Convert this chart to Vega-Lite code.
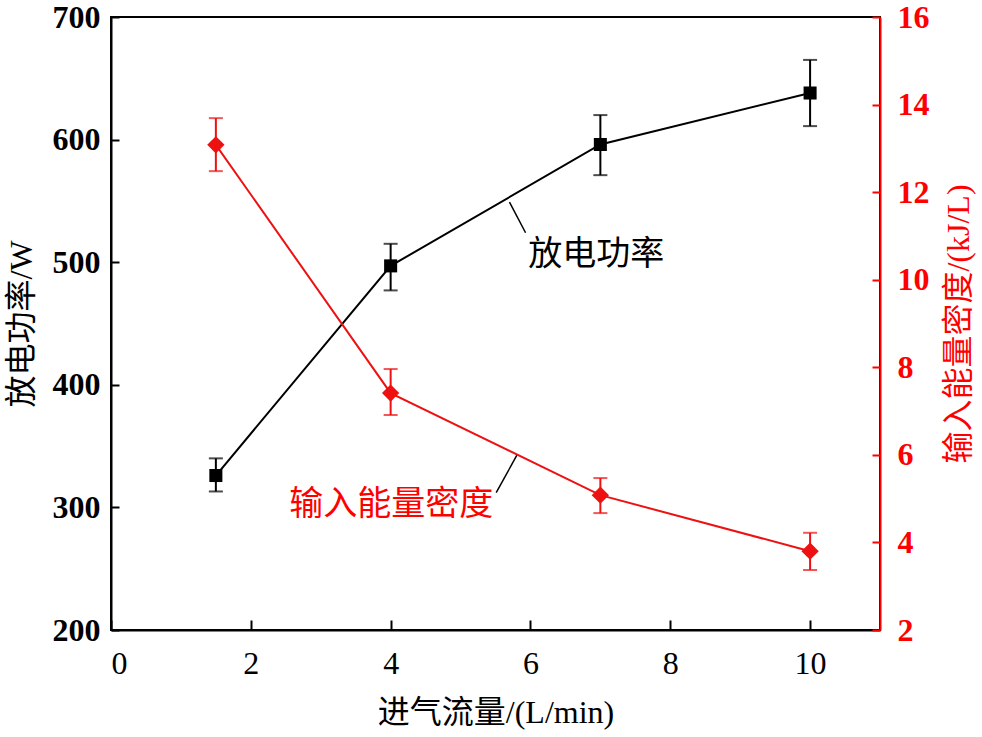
{
  "$schema": "https://vega.github.io/schema/vega-lite/v6.json",
  "width": 769,
  "height": 613,
  "autosize": {"type": "none"},
  "padding": {"left": 111, "top": 17, "right": 102, "bottom": 107},
  "background": "white",
  "config": {
    "view": {"stroke": "black", "strokeWidth": 2},
    "axis": {"grid": false}
  },
  "datasets": {
    "power": [
      {"flow": 1.5, "power": 326, "lo": 313, "hi": 340},
      {"flow": 4, "power": 497, "lo": 477, "hi": 515},
      {"flow": 7, "power": 596, "lo": 571, "hi": 620},
      {"flow": 10, "power": 638, "lo": 611, "hi": 665}
    ],
    "density": [
      {"flow": 1.5, "density": 13.08, "lo": 12.48, "hi": 13.69},
      {"flow": 4, "density": 7.41, "lo": 6.91, "hi": 7.96},
      {"flow": 7, "density": 5.08, "lo": 4.67, "hi": 5.47},
      {"flow": 10, "density": 3.8, "lo": 3.37, "hi": 4.22}
    ],
    "leaders": [
      {"flow": 5.7, "y": 549, "flow2": 5.93, "y2": 524},
      {"flow": 5.81, "y": 343, "flow2": 5.51, "y2": 312}
    ],
    "labels": [
      {"flow": 6.94, "y": 506, "text": "放电功率", "series": "power"},
      {"flow": 4.01, "y": 302, "text": "输入能量密度", "series": "density"}
    ]
  },
  "resolve": {"scale": {"y": "independent"}},
  "layer": [
    {
      "layer": [
        {
          "data": {"name": "power"},
          "mark": {"type": "line", "color": "black", "strokeWidth": 2},
          "encoding": {
            "x": {
              "field": "flow", "type": "quantitative",
              "scale": {"domain": [0, 11], "nice": false},
              "axis": {
                "title": "进气流量/(L/min)",
                "values": [0, 2, 4, 6, 8, 10], "format": "d",
                "domainColor": "black", "domainWidth": 2,
                "tickColor": "black", "tickWidth": 2, "tickSize": -10,
                "labelPadding": 28, "labelFont": "Liberation Serif",
                "labelFontSize": 32, "labelColor": "black",
                "titleFont": "Liberation Serif, Noto Sans CJK SC",
                "titleFontSize": 32, "titleFontWeight": "normal",
                "titleColor": "black", "titlePadding": 18
              }
            },
            "y": {
              "field": "power", "type": "quantitative",
              "scale": {"domain": [200, 700], "nice": false, "zero": false},
              "axis": {
                "orient": "left",
                "title": "放电功率/W",
                "values": [200, 300, 400, 500, 600, 700], "format": "d",
                "domainColor": "black", "domainWidth": 2,
                "tickColor": "black", "tickWidth": 2, "tickSize": -8,
                "labelPadding": 19, "labelFont": "Liberation Serif",
                "labelFontWeight": "bold",
                "labelFontSize": 32, "labelColor": "black",
                "titleFont": "Liberation Serif, Noto Sans CJK SC",
                "titleFontSize": 32, "titleFontWeight": "normal",
                "titleColor": "black", "titlePadding": 14
              }
            }
          }
        },
        {
          "data": {"name": "power"},
          "mark": {"type": "rule", "color": "black", "strokeWidth": 2},
          "encoding": {
            "x": {"field": "flow", "type": "quantitative"},
            "y": {"field": "lo", "type": "quantitative"},
            "y2": {"field": "hi"}
          }
        },
        {
          "data": {"name": "power"},
          "mark": {"type": "tick", "orient": "horizontal", "color": "black", "size": 14, "thickness": 2},
          "encoding": {
            "x": {"field": "flow", "type": "quantitative"},
            "y": {"field": "lo", "type": "quantitative"}
          }
        },
        {
          "data": {"name": "power"},
          "mark": {"type": "tick", "orient": "horizontal", "color": "black", "size": 14, "thickness": 2},
          "encoding": {
            "x": {"field": "flow", "type": "quantitative"},
            "y": {"field": "hi", "type": "quantitative"}
          }
        },
        {
          "data": {"name": "power"},
          "mark": {"type": "point", "shape": "square", "filled": true, "color": "black", "size": 170, "opacity": 1},
          "encoding": {
            "x": {"field": "flow", "type": "quantitative"},
            "y": {"field": "power", "type": "quantitative"}
          }
        },
        {
          "data": {"name": "leaders"},
          "mark": {"type": "rule", "color": "black", "strokeWidth": 1.5},
          "encoding": {
            "x": {"field": "flow", "type": "quantitative"},
            "y": {"field": "y", "type": "quantitative"},
            "x2": {"field": "flow2"},
            "y2": {"field": "y2"}
          }
        },
        {
          "data": {"name": "labels"},
          "mark": {"type": "text", "fontSize": 34, "font": "Noto Sans CJK SC", "align": "center", "baseline": "middle"},
          "encoding": {
            "x": {"field": "flow", "type": "quantitative"},
            "y": {"field": "y", "type": "quantitative"},
            "text": {"field": "text"},
            "color": {
              "field": "series", "type": "nominal",
              "scale": {"domain": ["power", "density"], "range": ["black", "#ff0000"]},
              "legend": null
            }
          }
        }
      ]
    },
    {
      "data": {"name": "density"},
      "layer": [
        {
          "mark": {"type": "line", "color": "#ee1111", "strokeWidth": 2},
          "encoding": {
            "x": {"field": "flow", "type": "quantitative"},
            "y": {
              "field": "density", "type": "quantitative",
              "scale": {"domain": [2, 16], "nice": false, "zero": false},
              "axis": {
                "orient": "right",
                "title": "输入能量密度/(kJ/L)",
                "titleAngle": 270,
                "titleBaseline": "top",
                "values": [2, 4, 6, 8, 10, 12, 14, 16], "format": "d",
                "domainColor": "#ff0000", "domainWidth": 2,
                "tickColor": "#ff0000", "tickWidth": 2, "tickSize": -8,
                "labelPadding": 25, "labelFont": "Liberation Serif",
                "labelFontWeight": "bold",
                "labelFontSize": 32, "labelColor": "#ff0000",
                "titleFont": "Liberation Serif, Noto Sans CJK SC",
                "titleFontSize": 32, "titleFontWeight": "normal",
                "titleColor": "#ff0000", "titlePadding": 14
              }
            }
          }
        },
        {
          "mark": {"type": "rule", "color": "#ee1111", "strokeWidth": 2},
          "encoding": {
            "x": {"field": "flow", "type": "quantitative"},
            "y": {"field": "lo", "type": "quantitative"},
            "y2": {"field": "hi"}
          }
        },
        {
          "mark": {"type": "tick", "orient": "horizontal", "color": "#ee1111", "size": 14, "thickness": 2},
          "encoding": {
            "x": {"field": "flow", "type": "quantitative"},
            "y": {"field": "lo", "type": "quantitative"}
          }
        },
        {
          "mark": {"type": "tick", "orient": "horizontal", "color": "#ee1111", "size": 14, "thickness": 2},
          "encoding": {
            "x": {"field": "flow", "type": "quantitative"},
            "y": {"field": "hi", "type": "quantitative"}
          }
        },
        {
          "mark": {"type": "point", "shape": "diamond", "filled": true, "color": "#ee1111", "size": 300, "opacity": 1},
          "encoding": {
            "x": {"field": "flow", "type": "quantitative"},
            "y": {"field": "density", "type": "quantitative"}
          }
        }
      ]
    }
  ]
}
